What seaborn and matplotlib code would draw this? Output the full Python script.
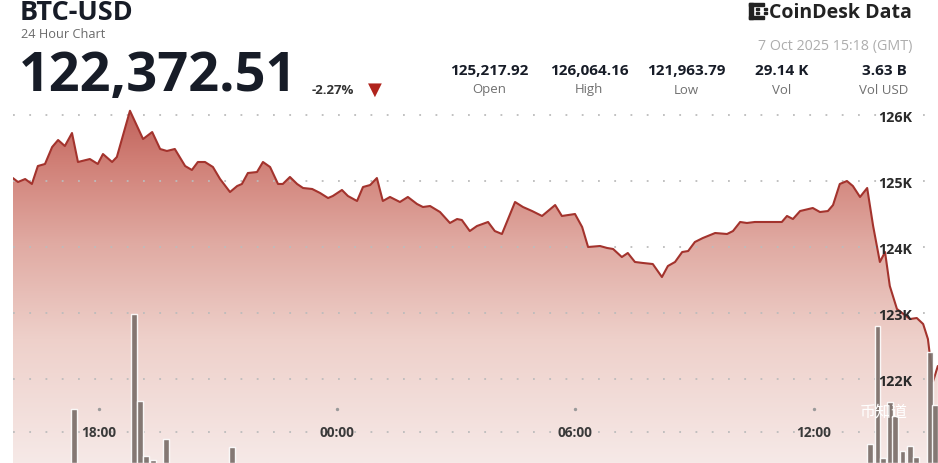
import numpy as np
import pandas as pd
import matplotlib
matplotlib.use("Agg")
import matplotlib.pyplot as plt
from matplotlib.colors import LinearSegmentedColormap
from matplotlib.patches import Rectangle
import seaborn as sns

# ---------------- data ----------------
# hours relative to 18:00 (6 Oct 2025)
hours = [-2.17, -2.04, -1.86, -1.69, -1.54, -1.36, -1.18, -1.03, -0.86, -0.68,
         -0.53, -0.23, -0.03, 0.10, 0.33, 0.45, 0.78, 1.11, 1.34, 1.54,
         1.71, 1.91, 2.17, 2.34, 2.49, 2.67, 2.87, 3.05, 3.30, 3.48,
         3.60, 3.75, 3.98, 4.13, 4.31, 4.51, 4.63, 4.81, 4.99, 5.14,
         5.37, 5.57, 5.77, 5.89, 6.12, 6.27, 6.50, 6.65, 6.83, 7.00,
         7.15, 7.33, 7.58, 7.78, 8.01, 8.16, 8.34, 8.59, 8.84, 9.02,
         9.14, 9.34, 9.52, 9.80, 9.97, 10.15, 10.48, 10.68, 10.91, 11.16,
         11.49, 11.66, 11.99, 12.17, 12.32, 12.62, 12.80, 12.95, 13.17, 13.32,
         13.50, 13.70, 13.95, 14.18, 14.33, 14.51, 14.69, 14.84, 15.01, 15.21,
         15.52, 15.82, 15.97, 16.15, 16.32, 16.52, 16.90, 17.20, 17.33, 17.48,
         17.66, 17.98, 18.16, 18.36, 18.49, 18.66, 18.84, 18.99, 19.17, 19.35,
         19.50, 19.67, 19.80, 19.92, 20.10, 20.43, 20.60, 20.76, 20.88, 21.01,
         21.13]
prices = [125045, 124985, 125030, 124955, 125227, 125258, 125515, 125621, 125530, 125727,
          125288, 125333, 125258, 125409, 125288, 125364, 126064, 125636, 125742, 125485,
          125455, 125485, 125227, 125167, 125288, 125288, 125212, 125030, 124833, 124924,
          124955, 125121, 125136, 125288, 125212, 124955, 124955, 125061, 124955, 124894,
          124879, 124818, 124742, 124773, 124864, 124773, 124697, 124909, 124939, 125045,
          124697, 124758, 124682, 124758, 124652, 124606, 124621, 124530, 124364, 124424,
          124409, 124242, 124318, 124379, 124242, 124197, 124682, 124606, 124545, 124470,
          124636, 124470, 124500, 124303, 124000, 124015, 123985, 123970, 123848, 123909,
          123773, 123758, 123742, 123545, 123712, 123773, 123924, 123939, 124076, 124136,
          124212, 124197, 124242, 124379, 124364, 124379, 124379, 124379, 124470, 124424,
          124545, 124591, 124530, 124545, 124636, 124955, 125000, 124924, 124758, 124894,
          124318, 123773, 123924, 123409, 123061, 122909, 122924, 122833, 122606, 121964,
          122197]

vol_hours = [-0.63, 0.87, 1.03, 1.18, 1.36, 1.69, 3.36,
             19.42, 19.61, 19.75, 19.92, 20.05, 20.24, 20.43, 20.57, 20.93, 21.07]
vol_btc = [540, 1490, 620, 70, 30, 240, 160,
           190, 1370, 50, 610, 470, 120, 170, 60, 1110, 580]

xtick_hours = [0, 6, 12, 18]
xtick_labels = ["18:00", "00:00", "06:00", "12:00"]
ytick_values = [122000, 123000, 124000, 125000, 126000]
ytick_labels = ["122K", "123K", "124K", "125K", "126K"]

stat_values = ["125,217.92", "126,064.16", "121,963.79", "29.14 K", "3.63 B"]
stat_names = ["Open", "High", "Low", "Vol", "Vol USD"]

df = pd.DataFrame({"hour": hours, "price": prices})
vdf = pd.DataFrame({"hour": vol_hours, "vol": vol_btc})

# ---------------- style ----------------
sns.set_style("white")
plt.rcParams["font.family"] = ["Open Sans", "DejaVu Sans"]

W, H = 938, 464
fig = plt.figure(figsize=(W / 100, H / 100), dpi=100)
fig.patch.set_facecolor("white")

def fx(x):
    return x / W

def fy(y):
    return 1 - y / H

ax = fig.add_axes([fx(13), 0, fx(925), 1])
XMIN, XMAX = -2.166, 21.134
YMIN, YMAX = 120727.3, 127757.6

# gradient fill under the price line
cmap = LinearSegmentedColormap.from_list(
    "g", [(0.0, "#f6e9e7"), (0.35, "#eed0ca"), (0.62, "#e0aaa2"), (0.85, "#d07f76"),
          (1.0, "#c0615a")])
grad = np.linspace(0, 1, 256).reshape(-1, 1)
im = ax.imshow(grad, extent=[XMIN, XMAX, YMIN, 126100], origin="lower",
               aspect="auto", cmap=cmap, zorder=1)
poly = ax.fill_between(df["hour"], df["price"], YMIN, color="none", lw=0)
im.set_clip_path(poly.get_paths()[0], transform=ax.transData)

sns.lineplot(data=df, x="hour", y="price", ax=ax, color="#a3332d", lw=1.5, zorder=4)

for v in ytick_values + [121197]:
    ax.axhline(v, color="#bcbcbc", lw=1.3, ls=(0, (1, 8)), zorder=3)
ax.scatter(xtick_hours, [121545] * len(xtick_hours), s=2, color="#9a9a9a", zorder=3)

ax.set_xlim(XMIN, XMAX)
ax.set_ylim(YMIN, YMAX)
ax.set_xticks(xtick_hours)
ax.set_xticklabels(xtick_labels)
ax.set_yticks([])
ax.set_axisbelow(False)
ax.xaxis.set_zorder(6)
ax.tick_params(axis="x", length=0, pad=-27, labelsize=9.8, labelcolor="#3a3a3a")
for t in ax.get_xticklabels():
    t.set_fontweight("bold")
ax.set_xlabel("")
ax.set_ylabel("")
for s in ax.spines.values():
    s.set_visible(False)
ax.patch.set_visible(False)

# volume bars
ax2 = ax.twinx()
ax2.bar(vdf["hour"], vdf["vol"], width=0.15, color="#7b6f6a", alpha=0.92, zorder=5)
ax2.set_ylim(0, 4640)
ax2.set_yticks([])
for s in ax2.spines.values():
    s.set_visible(False)
ax2.patch.set_visible(False)

# price labels on top
ax3 = ax.twinx()
ax3.set_ylim(YMIN, YMAX)
ax3.set_yticks(ytick_values)
ax3.set_yticklabels(ytick_labels)
ax3.tick_params(axis="y", length=0, pad=-18.5, labelsize=10.3, labelcolor="#2a2a2a")
for t in ax3.get_yticklabels():
    t.set_ha("right")
    t.set_fontweight("bold")
for s in ax3.spines.values():
    s.set_visible(False)
ax3.patch.set_visible(False)

# ---------------- header ----------------
dark = "#171c27"
fig.text(fx(20), fy(13), "BTC-USD", fontsize=19.5, fontweight="bold", color=dark, va="center")
fig.text(fx(21), fy(35), "24 Hour Chart", fontsize=9.2, color="#6b6b6b", va="center")
fig.text(fx(19), fy(77), "122,372.51", fontsize=39, fontweight="bold", color=dark, va="center")
fig.text(fx(312), fy(90), "-2.27%", fontsize=9.5, fontweight="bold", color="#333333", va="center")
fig.text(fx(375), fy(90), "▼", fontsize=13, color="#b0231c", va="center", ha="center",
         family=["DejaVu Sans"])

stat_centers = [489, 589, 686, 782, 884]
for cx, val, name in zip(stat_centers, stat_values, stat_names):
    fig.text(fx(cx), fy(71), val, fontsize=11, fontweight="bold", color=dark,
             ha="center", va="center")
    fig.text(fx(cx), fy(90), name, fontsize=9.5, color="#707070", ha="center", va="center")

fig.text(fx(912), fy(47), "7 Oct 2025 15:18 (GMT)", fontsize=10.3, color="#adadad",
         ha="right", va="center")
fig.text(fx(769), fy(13), "CoinDesk Data", fontsize=14, fontweight="bold", color="#222222",
         ha="left", va="center")
# logo mark
logo = [(749, 4, 4, 16), (749, 4, 15, 3), (749, 17, 15, 3),
        (756, 9, 3, 2), (756, 13, 3, 2), (764, 9, 3, 2), (764, 13, 3, 2)]
for (x, y, w, h) in logo:
    fig.patches.append(Rectangle((fx(x), fy(y + h)), w / W, h / H, transform=fig.transFigure,
                                 color="#222222", zorder=10))

# watermark
fig.text(fx(884), fy(412), "币知道", fontsize=11.5, color="white", ha="center", va="center",
         family=["Noto Sans CJK SC", "DejaVu Sans"], zorder=20)

fig.savefig("out.png", dpi=100, facecolor="white")
